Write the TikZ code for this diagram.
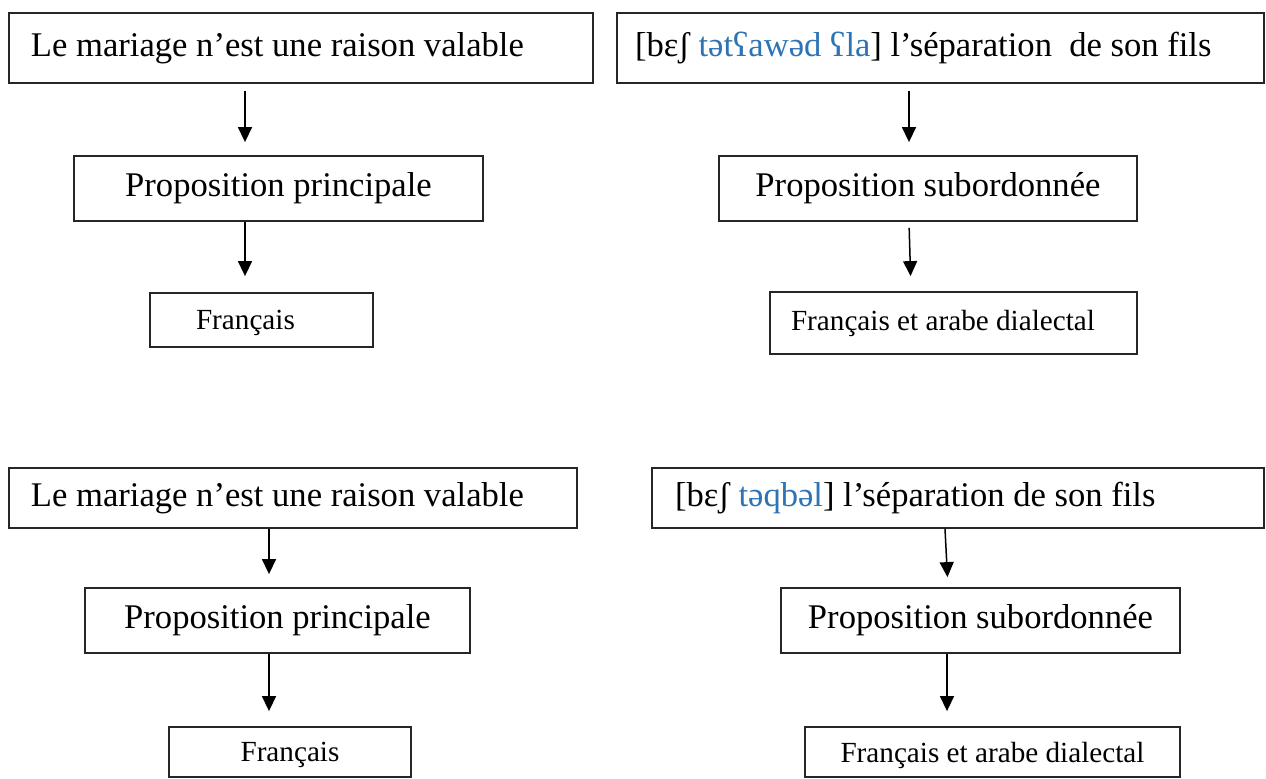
\documentclass[tikz,border=0pt]{standalone}
\usepackage{fontspec}
\setmainfont{Liberation Serif}
\usepackage{xcolor}
\definecolor{ipaBlue}{RGB}{46,116,181}
\usetikzlibrary{arrows.meta}

\newcommand{\bigtxt}{\fontsize{17.3}{20}\selectfont}
\newcommand{\smalltxt}{\fontsize{14.6}{17}\selectfont}
\newcommand{\lefttxt}[2]{\makebox[#1][l]{#2}}

\begin{document}
\begin{tikzpicture}[
    x=0.5pt,y=-0.5pt,
    box/.style={draw=black!85,line width=0.9pt,inner sep=0pt,
                minimum height=32.5pt,font=\bigtxt},
    lang/.style={box,font=\smalltxt},
    flow/.style={-{Triangle[length=7.5pt,width=7pt]},line width=0.75pt,
                 shorten >=6.5pt},
  ]
    \useasboundingbox (0,0) rectangle (1266,779);

    % colonnes des fleches
    \coordinate (ca) at (245,0);
    \coordinate (cb) at (909,0);
    \coordinate (cb2) at (911,0);
    \coordinate (cc) at (269,0);
    \coordinate (cd) at (945,0);
    \coordinate (cd2) at (948,0);
    \coordinate (ce) at (947,0);

    % premier exemple
    \node[box,minimum height=35pt,inner xsep=11pt] (princA) at (301,48)
      {\lefttxt{270pt}{Le mariage n’est une raison valable}};
    \node[box,minimum width=204.5pt] (propA) at (278.5,188.5)
      {Proposition principale};
    \node[lang,minimum height=27pt,inner xsep=23pt,text depth=0pt] (langA) at (261.5,320)
      {\lefttxt{65.5pt}{Français}};

    \node[box,minimum height=35pt,inner xsep=9pt] (subA) at (940.5,48)
      {\lefttxt{305.5pt}{[bɛʃ \textcolor{ipaBlue}{tətʕawəd ʕla}] l’séparation\ \ de son fils}};
    \node[box,minimum width=209pt] (psubA) at (928,188.5)
      {Proposition subordonnée};
    \node[lang,minimum height=31pt,inner xsep=10.5pt] (mixA) at (953.5,323)
      {\lefttxt{162.5pt}{Français et arabe dialectal}};

    % second exemple
    \node[box,minimum height=30pt,inner xsep=11pt] (princB) at (293,498)
      {\lefttxt{262pt}{Le mariage n’est une raison valable}};
    \node[box,minimum width=192.5pt] (propB) at (277.5,620.5)
      {Proposition principale};
    \node[lang,minimum height=25pt,minimum width=121pt,text depth=0pt] (langB) at (290,752)
      {Français};

    \node[box,minimum height=30pt,inner xsep=11.5pt] (subB) at (958,498)
      {\lefttxt{283pt}{[bɛʃ \textcolor{ipaBlue}{təqbəl}] l’séparation de son fils}};
    \node[box,minimum width=199.5pt] (psubB) at (980.5,620.5)
      {Proposition subordonnée};
    \node[lang,minimum height=25pt,minimum width=187.5pt,text depth=0pt] (mixB) at (992.5,752)
      {Français et arabe dialectal};

    \draw[flow,shorten <=3.5pt] (princA.south -| ca) -- (propA.north -| ca);
    \draw[flow,shorten >=8pt]   (propA.south -| ca)  -- (langA.north -| ca);
    \draw[flow,shorten <=3.5pt] (subA.south -| cb)   -- (psubA.north -| cb);
    \draw[flow,shorten <=3pt,shorten >=7.5pt] (psubA.south -| cb) -- (mixA.north -| cb2);

    \draw[flow] (princB.south -| cc) -- (propB.north -| cc);
    \draw[flow,shorten >=7.5pt] (propB.south -| cc) -- (langB.north -| cc);
    \draw[flow,shorten >=5pt]   (subB.south -| cd)  -- (psubB.north -| cd2);
    \draw[flow,shorten >=7.5pt] (psubB.south -| ce) -- (mixB.north -| ce);

  \end{tikzpicture}
\end{document}
